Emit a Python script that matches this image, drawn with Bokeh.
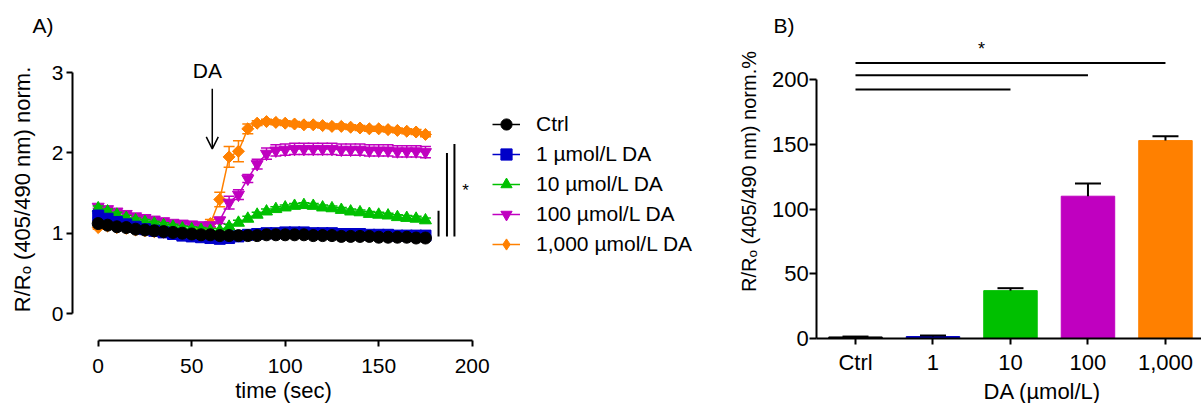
import numpy as np
from bokeh.plotting import figure
from bokeh.models import (Range1d, Legend, LegendItem, Label, Arrow,
                          OpenHead, FixedTicker, ColumnDataSource)
from bokeh.layouts import row
from bokeh.embed import file_html
from bokeh.resources import INLINE

FONT = "Liberation Sans"
BLACK = "#000000"
BLUE = "#0000C8"
GREEN = "#00C000"
MAGENTA = "#C000C0"
ORANGE = "#FF8000"

# ---------------- Panel A data: time course ----------------
time_sec = [0, 5, 10, 15, 20, 25, 30, 35, 40, 45, 50, 55, 60, 65, 70, 75, 80, 85,
            90, 95, 100, 105, 110, 115, 120, 125, 130, 135, 140, 145, 150, 155, 160, 165, 170, 175]

ctrl = [1.12, 1.10, 1.08, 1.07, 1.05, 1.04, 1.03, 1.02, 1.01, 1.00, 0.99, 0.98, 0.98, 0.97,
        0.97, 0.97, 0.97, 0.97, 0.98, 0.98, 0.98, 0.98, 0.98, 0.97, 0.97, 0.97, 0.96, 0.96,
        0.96, 0.96, 0.95, 0.95, 0.95, 0.95, 0.94, 0.94]
ctrl_err = [0.02, 0.02, 0.02, 0.02, 0.02, 0.02, 0.02, 0.02, 0.02, 0.02, 0.02, 0.02, 0.02, 0.02,
            0.02, 0.02, 0.02, 0.02, 0.02, 0.02, 0.02, 0.02, 0.02, 0.02, 0.02, 0.02, 0.02, 0.02,
            0.02, 0.02, 0.02, 0.02, 0.02, 0.02, 0.02, 0.02]

da1 = [1.22, 1.18, 1.14, 1.11, 1.08, 1.05, 1.03, 1.01, 0.99, 0.97, 0.96, 0.95, 0.94, 0.93,
       0.94, 0.96, 0.98, 0.99, 1.00, 1.00, 1.01, 1.01, 1.01, 1.00, 1.00, 1.00, 0.99, 0.99,
       0.99, 0.98, 0.98, 0.98, 0.97, 0.97, 0.97, 0.97]
da1_err = [0.03, 0.03, 0.03, 0.03, 0.03, 0.03, 0.03, 0.03, 0.03, 0.03, 0.03, 0.03, 0.03, 0.03,
           0.04, 0.05, 0.05, 0.05, 0.05, 0.05, 0.05, 0.05, 0.05, 0.05, 0.05, 0.05, 0.05, 0.04,
           0.04, 0.04, 0.04, 0.04, 0.04, 0.04, 0.04, 0.04]

da10 = [1.31, 1.27, 1.23, 1.19, 1.16, 1.14, 1.12, 1.10, 1.08, 1.06, 1.05, 1.04, 1.03, 1.03,
        1.08, 1.13, 1.18, 1.23, 1.27, 1.30, 1.32, 1.34, 1.35, 1.34, 1.32, 1.31, 1.29, 1.27,
        1.26, 1.24, 1.23, 1.22, 1.20, 1.19, 1.18, 1.16]
da10_err = [0.03, 0.03, 0.03, 0.03, 0.03, 0.03, 0.03, 0.03, 0.03, 0.03, 0.03, 0.03, 0.03, 0.03,
            0.03, 0.03, 0.03, 0.03, 0.03, 0.03, 0.03, 0.03, 0.03, 0.03, 0.03, 0.03, 0.03, 0.03,
            0.03, 0.03, 0.03, 0.03, 0.03, 0.03, 0.03, 0.03]

da100 = [1.33, 1.30, 1.27, 1.24, 1.21, 1.19, 1.17, 1.15, 1.13, 1.12, 1.11, 1.10, 1.10,
         1.16, 1.38, 1.48, 1.68, 1.86, 1.99, 2.03, 2.04, 2.05, 2.05, 2.05, 2.05, 2.05,
         2.04, 2.04, 2.04, 2.03, 2.03, 2.03, 2.02, 2.02, 2.02, 2.01]
da100_err = [0.02, 0.02, 0.02, 0.02, 0.02, 0.02, 0.02, 0.02, 0.02, 0.02, 0.02, 0.02, 0.02,
             0.04, 0.08, 0.06, 0.05, 0.06, 0.07, 0.07, 0.07, 0.07, 0.07, 0.07, 0.07, 0.07,
             0.07, 0.07, 0.07, 0.07, 0.07, 0.07, 0.07, 0.07, 0.07, 0.07]

da1000 = [1.07, 1.09, 1.07, 1.06, 1.04, 1.03, 1.02, 1.01, 1.00, 0.99, 1.00, 1.04,
          1.12, 1.42, 1.95, 2.02, 2.30, 2.37, 2.39, 2.38, 2.37, 2.36, 2.35, 2.35,
          2.34, 2.33, 2.33, 2.32, 2.31, 2.30, 2.30, 2.29, 2.28, 2.27, 2.26, 2.23]
da1000_err = [0.02, 0.02, 0.02, 0.02, 0.02, 0.02, 0.02, 0.02, 0.02, 0.02, 0.02, 0.02,
              0.05, 0.09, 0.13, 0.13, 0.06, 0.03, 0.03, 0.03, 0.03, 0.03, 0.03, 0.03,
              0.03, 0.03, 0.03, 0.03, 0.03, 0.03, 0.03, 0.03, 0.03, 0.03, 0.03, 0.03]

legend_labels = ["Ctrl", "1 µmol/L DA", "10 µmol/L DA", "100 µmol/L DA", "1,000 µmol/L DA"]

# significance bars panel A
sigA_x = [182.0, 186.5, 190.5]
sigA_bottom = [0.96, 0.96, 0.96]
sigA_top = [1.28, 2.00, 2.11]

# DA application arrow
da_time = 61
da_arrow_top = 2.80
da_arrow_tip = 2.05

# ---------------- Panel B data: bars ----------------
bar_cats = ["Ctrl", "1", "10", "100", "1,000"]
bar_vals = [1.2, 1.5, 37.0, 110.0, 153.0]
bar_errs = [0.3, 0.8, 1.9, 9.8, 3.3]
bar_colors = [BLACK, BLUE, GREEN, MAGENTA, ORANGE]

sigB_from = ["Ctrl", "Ctrl", "Ctrl"]
sigB_to = ["10", "100", "1,000"]
sigB_level = [192.4, 203.5, 213.0]


def style_axes(p, tick_size):
    p.xgrid.visible = False
    p.ygrid.visible = False
    p.outline_line_color = None
    for ax in list(p.xaxis) + list(p.yaxis):
        ax.axis_line_width = 2
        ax.axis_line_color = "black"
        ax.major_tick_line_width = 2
        ax.major_tick_line_color = "black"
        ax.major_tick_in = 0
        ax.minor_tick_line_color = None
        ax.major_label_text_font = FONT
        ax.major_label_text_font_size = tick_size
        ax.major_label_text_color = "black"


# ================= Panel A =================
# frame covers the whole canvas; axes are drawn at fixed data locations
pA = figure(width=720, height=403, output_backend="svg", toolbar_location=None,
            x_range=Range1d(-52.25, 332.78), y_range=Range1d(-1.1208, 3.8979),
            min_border=0, min_border_left=0, min_border_right=0,
            min_border_top=0, min_border_bottom=0)
style_axes(pA, "21px")
pA.xaxis.fixed_location = -0.336
pA.xaxis.bounds = (0, 200)
pA.xaxis.ticker = FixedTicker(ticks=[0, 50, 100, 150, 200])
pA.xaxis.major_tick_out = 6
pA.xaxis.major_label_standoff = 13
pA.yaxis.fixed_location = -13.74
pA.yaxis.bounds = (0, 3)
pA.yaxis.ticker = FixedTicker(ticks=[0, 1, 2, 3])
pA.yaxis.major_tick_out = 6
pA.yaxis.major_label_standoff = 3

series = {
    "1,000 µmol/L DA": (da1000, da1000_err, ORANGE, "diamond"),
    "100 µmol/L DA": (da100, da100_err, MAGENTA, "inverted_triangle"),
    "10 µmol/L DA": (da10, da10_err, GREEN, "triangle"),
    "1 µmol/L DA": (da1, da1_err, BLUE, "square"),
    "Ctrl": (ctrl, ctrl_err, BLACK, "circle"),
}
renderers = {}
for name, (vals, errs, col, marker) in series.items():
    src = ColumnDataSource(dict(
        t=time_sec, y=vals,
        lo=[v - e for v, e in zip(vals, errs)],
        hi=[v + e for v, e in zip(vals, errs)]))
    line_r = pA.line("t", "y", source=src, line_color=col, line_width=1.5)
    pA.segment("t", "lo", "t", "hi", source=src, line_color=col, line_width=1.5)
    pA.scatter("t", "hi", source=src, marker="dash", size=11, line_color=col, line_width=1.5)
    pA.scatter("t", "lo", source=src, marker="dash", size=11, line_color=col, line_width=1.5)
    if marker == "diamond":
        # legend glyph (hidden under the rotated squares in the plot)
        leg_r = pA.scatter("t", "y", source=src, marker="diamond", size=11,
                           fill_color=col, line_color=col)
        pA.scatter("t", "y", source=src, marker="square", angle=np.pi / 4, size=8.5,
                   fill_color=col, line_color=col)
        renderers[name] = [line_r, leg_r]
        continue
    size = {"square": 11, "circle": 12}.get(marker, 12)
    sc = pA.scatter("t", "y", source=src, marker=marker, size=size,
                    fill_color=col, line_color=col)
    renderers[name] = [line_r, sc]

legend = Legend(items=[LegendItem(label=lab, renderers=renderers[lab]) for lab in legend_labels],
                location=(492, 144), orientation="vertical", padding=0, margin=0, spacing=0,
                glyph_width=28, glyph_height=30, label_height=30, label_standoff=16,
                label_text_font=FONT, label_text_font_size="21px", label_text_color="black",
                border_line_color=None, background_fill_alpha=0)
pA.add_layout(legend)

pA.segment(x0=sigA_x, y0=sigA_bottom, x1=sigA_x, y1=sigA_top, line_color="black", line_width=2)
pA.add_layout(Label(x=196.5, y=1.53, text="*", text_align="center", text_baseline="middle",
                    text_font=FONT, text_font_size="17px", text_color="black"))

pA.add_layout(Arrow(end=OpenHead(size=12, line_width=1.5, line_color="black"),
                    x_start=da_time, y_start=da_arrow_top, x_end=da_time, y_end=da_arrow_tip,
                    line_width=1.5, line_color="black"))
pA.add_layout(Label(x=58.4, y=3.03, text="DA", text_align="center", text_baseline="middle",
                    text_font=FONT, text_font_size="21px", text_color="black"))

pA.add_layout(Label(x=22, y=214, x_units="screen", y_units="screen",
                    text="R/Rₒ (405/490 nm) norm.", angle=np.pi / 2,
                    text_align="center", text_baseline="middle",
                    text_font=FONT, text_font_size="22px", text_color="black"))
pA.add_layout(Label(x=283, y=13, x_units="screen", y_units="screen", text="time (sec)",
                    text_align="center", text_baseline="middle",
                    text_font=FONT, text_font_size="22px", text_color="black"))
pA.add_layout(Label(x=32, y=378, x_units="screen", y_units="screen", text="A)",
                    text_align="left", text_baseline="middle",
                    text_font=FONT, text_font_size="21px", text_color="black"))

# ================= Panel B =================
bar_pos = list(range(len(bar_cats)))
pB = figure(width=481, height=403, output_backend="svg", toolbar_location=None,
            x_range=Range1d(-1.742, 4.465), y_range=Range1d(-50.25, 261.3),
            min_border=0, min_border_left=0, min_border_right=0,
            min_border_top=0, min_border_bottom=0)
style_axes(pB, "22px")
pB.yaxis.fixed_location = -0.5
pB.yaxis.bounds = (0, 200)
pB.yaxis.ticker = FixedTicker(ticks=[0, 50, 100, 150, 200])
pB.yaxis.major_tick_out = 7
pB.yaxis.major_label_standoff = 1
pB.xaxis.fixed_location = 0
pB.xaxis.bounds = (-0.5, 4.5)
pB.xaxis.ticker = FixedTicker(ticks=bar_pos)
pB.xaxis.major_label_overrides = {i: c for i, c in zip(bar_pos, bar_cats)}
pB.xaxis.major_tick_out = 6
pB.xaxis.major_label_standoff = 5

pB.vbar(x=bar_pos, top=bar_vals, width=0.69, fill_color=bar_colors, line_color=bar_colors)
bar_hi = [v + e for v, e in zip(bar_vals, bar_errs)]
pB.segment(x0=bar_pos, y0=bar_vals, x1=bar_pos, y1=bar_hi, line_color="black", line_width=2)
pB.scatter(x=bar_pos, y=bar_hi, marker="dash", size=26, line_color="black", line_width=2)

pB.segment(x0=[bar_cats.index(c) for c in sigB_from], y0=sigB_level,
           x1=[bar_cats.index(c) for c in sigB_to], y1=sigB_level,
           line_color="black", line_width=2)
pB.add_layout(Label(x=261, y=355, x_units="screen", y_units="screen", text="*",
                    text_align="center", text_baseline="middle",
                    text_font=FONT, text_font_size="18px", text_color="black"))

pB.add_layout(Label(x=28, y=232, x_units="screen", y_units="screen",
                    text="R/Rₒ (405/490 nm) norm.%", angle=np.pi / 2,
                    text_align="center", text_baseline="middle",
                    text_font=FONT, text_font_size="20px", text_color="black"))
pB.add_layout(Label(x=322, y=12, x_units="screen", y_units="screen", text="DA (µmol/L)",
                    text_align="center", text_baseline="middle",
                    text_font=FONT, text_font_size="22px", text_color="black"))
pB.add_layout(Label(x=53, y=378, x_units="screen", y_units="screen", text="B)",
                    text_align="left", text_baseline="middle",
                    text_font=FONT, text_font_size="21px", text_color="black"))

layout = row(pA, pB)
open("out.html", "w").write(file_html(layout, INLINE))
